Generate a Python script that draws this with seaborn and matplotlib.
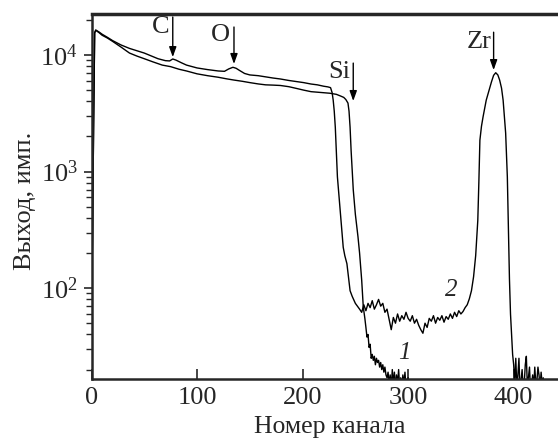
import numpy as np
import pandas as pd
import matplotlib
matplotlib.use('Agg')
import matplotlib.pyplot as plt
import seaborn as sns

# Спектр 1 (без пика Zr)
ch1 = [0, 1, 2, 3, 4, 7, 10, 15, 20, 28, 36, 43, 50, 58, 67, 75, 83, 90, 100, 110,
       120, 128, 135, 143, 150, 158, 165, 172, 179, 187, 195, 201, 208, 214, 220, 226,
       232, 236, 239, 241, 243, 244, 245, 246, 247.5, 248, 250, 252.5, 254, 256, 257.5] \
    + list(range(259, 303))
y1 = [50, 300, 2500, 15500, 16300, 15600, 14800, 14000, 13100, 11700, 10400, 9800,
      9300, 8750, 8200, 7950, 7550, 7300, 6900, 6650, 6450, 6250, 6100, 5950, 5800,
      5650, 5550, 5520, 5480, 5350, 5150, 5000, 4850, 4800, 4750, 4700, 4600, 4450,
      4330, 4150, 3870, 3300, 2400, 1500, 850, 700, 430, 275, 200, 117, 69,
      55, 46, 38, 40, 31, 33, 25, 27, 24, 26, 22, 25, 23, 24, 21, 23, 20, 22, 19, 21,
      18, 17, 19, 15, 18, 14, 20, 15, 19, 14, 18, 15, 20, 14, 17, 13, 18, 15, 19, 14,
      16, 17, 12, 11]

# Спектр 2 (с пиками C, O и Zr)
ch2_head = [0, 1, 2, 3, 4, 7, 10, 15, 20, 28, 36, 43, 50, 58, 63, 67, 70, 74, 77, 80,
            85, 90, 100, 110, 120, 126, 130, 134, 137, 140, 145, 150, 158, 165, 172,
            179, 187, 195, 201, 208, 214, 220, 224, 226.5, 228, 229, 230, 231, 233,
            235, 237, 238.5, 240, 242, 243.5, 245, 247, 250]
y2_head = [50, 300, 2500, 15500, 16400, 15800, 15100, 14200, 13300, 12200, 11400,
           10900, 10400, 9700, 9300, 9100, 8950, 8900, 9250, 9050, 8600, 8200, 7750,
           7500, 7300, 7250, 7600, 7850, 7700, 7400, 6950, 6750, 6650, 6500, 6350,
           6230, 6050, 5900, 5800, 5640, 5550, 5400, 5330, 5250, 4750, 4100, 3300,
           2400, 900, 540, 330, 224, 190, 162, 125, 95, 85, 74]
ch2_plateau = list(range(252, 365, 2))
y2_plateau = [70, 66, 62, 72, 64, 74, 68, 78, 66, 72,
              80, 70, 74, 62, 66, 54, 44, 56, 50, 60,
              52, 58, 54, 62, 55, 52, 58, 50, 54, 48,
              44, 41, 50, 46, 55, 52, 58, 50, 56, 53,
              58, 51, 57, 54, 60, 55, 62, 57, 64, 60,
              63, 68, 72, 81, 95, 125, 190]
ch2_peak = [366, 367, 368, 369.5, 371, 374, 377, 379, 381, 383, 385, 386.7, 388.5,
            390, 392.4, 394, 395, 396, 397, 398, 399]
y2_peak = [380, 800, 1860, 2450, 2950, 4100, 5100, 5900, 6700, 7050, 6750, 6100,
           5200, 4100, 2140, 900, 330, 120, 60, 40, 27]
ch2_tail = list(range(400, 431))
y2_tail = [22, 15, 25, 14, 18, 25, 13, 16, 20, 14, 15, 22, 26, 14, 17, 21, 13, 15,
           18, 14, 21, 15, 16, 21, 18, 14, 19, 15, 17, 13, 10]

ch2 = ch2_head + ch2_plateau + ch2_peak + ch2_tail
y2 = y2_head + y2_plateau + y2_peak + y2_tail

# Метки элементов: текст, позиция текста, стрелка (верх -> острие)
elements = ['C', 'O', 'Si', 'Zr']
label_x = [65.4, 122.3, 235, 367.3]
label_y = [17570, 14850, 7210, 13060]
arrow_x = [77, 135, 248, 381]
arrow_top = [21200, 17400, 8530, 15700]
arrow_tip = [9600, 8380, 4030, 7430]

df1 = pd.DataFrame({'ch': ch1, 'y': y1})
df2 = pd.DataFrame({'ch': ch2, 'y': y2})

sns.set_style('ticks')
plt.rcParams['font.family'] = ['Liberation Serif', 'DejaVu Serif']
plt.rcParams['mathtext.fontset'] = 'custom'
plt.rcParams['mathtext.rm'] = 'Liberation Serif'
plt.rcParams['mathtext.it'] = 'Liberation Serif:italic'

fig = plt.figure(figsize=(5.58, 4.41), dpi=100)
ax = fig.add_axes([91.5 / 558, 62 / 441, 466.5 / 558, 365 / 441])

sns.lineplot(data=df1, x='ch', y='y', ax=ax, color='black', lw=1.0,
             estimator=None, sort=False)
sns.lineplot(data=df2, x='ch', y='y', ax=ax, color='black', lw=1.0,
             estimator=None, sort=False)

ax.set_yscale('log')
ax.set_xlim(0, 442)
ax.set_ylim(16.6, 22500)
ax.set_xticks([0, 100, 200, 300, 400])

for i in range(len(elements)):
    ax.text(label_x[i], label_y[i], elements[i], fontsize=19, ha='center', va='center')
    ax.annotate('', xy=(arrow_x[i], arrow_tip[i]), xytext=(arrow_x[i], arrow_top[i]),
                arrowprops=dict(arrowstyle='-|>,head_length=0.5,head_width=0.18',
                                color='black', lw=1.0, mutation_scale=12,
                                shrinkA=0, shrinkB=0))

ax.text(296.7, 27.7, '1', fontsize=18, style='italic', ha='center', va='center')
ax.text(341, 96, '2', fontsize=18, style='italic', ha='center', va='center')

ax.set_xlabel('Номер канала', fontsize=18.5)
ax.set_ylabel('Выход, имп.', fontsize=19)
ax.xaxis.set_label_coords(0.511, -0.1)
ax.yaxis.set_label_coords(-0.12, 0.488)

ax.tick_params(axis='y', which='major', direction='out', length=6, width=1.2,
               labelsize=19, pad=4)
ax.tick_params(axis='y', which='minor', direction='out', length=4, width=1.0)
ax.tick_params(axis='x', which='major', direction='in', length=7, width=1.2,
               labelsize=19, pad=6)
ax.tick_params(axis='x', which='minor', bottom=False)

ax.spines['right'].set_visible(False)
ax.spines['top'].set_linewidth(2.5)
ax.spines['bottom'].set_linewidth(1.8)
ax.spines['left'].set_linewidth(1.8)

fig.savefig('out.png', dpi=100)
